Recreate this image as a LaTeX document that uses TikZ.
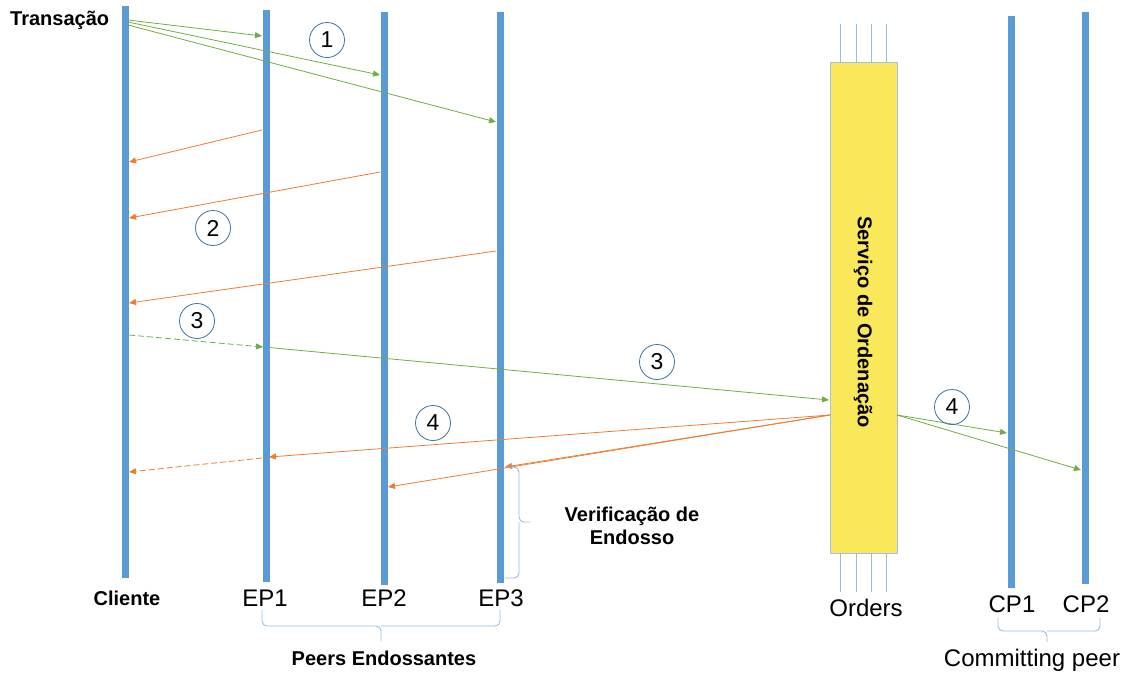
\documentclass[tikz,border=0pt]{standalone}
\usepackage{fontspec}
\setmainfont{Liberation Sans}
\usetikzlibrary{arrows.meta}
\definecolor{lifeblue}{RGB}{91,155,213}
\definecolor{msggreen}{RGB}{112,173,71}
\definecolor{msgorange}{RGB}{237,125,49}
\definecolor{ordyellow}{RGB}{249,232,90}
\definecolor{bracecol}{RGB}{150,190,228}
\definecolor{circlecol}{RGB}{65,113,156}
\begin{document}
\begin{tikzpicture}[x=1pt,y=-1pt,
  lifeline/.style={draw=lifeblue,line width=7pt},
  req/.style={draw=msggreen,line width=0.8pt,-{Triangle[length=7pt,width=6pt]}},
  resp/.style={draw=msgorange,line width=0.8pt,-{Triangle[length=7pt,width=6pt]}},
  stepnum/.style={circle,draw=circlecol,line width=0.8pt,minimum size=35pt,inner sep=0pt,font=\fontsize{23}{23}\selectfont},
  actor/.style={font=\fontsize{24}{24}\selectfont},
  bactor/.style={font=\bfseries\fontsize{20}{23}\selectfont},
  wire/.style={draw=bracecol,line width=0.7pt},
  bracket/.style={draw=bracecol,line width=0.9pt,rounded corners=5pt}
]
\useasboundingbox (0,0) rectangle (1134,673);

% lifelines
\draw[lifeline] (125,6) -- (125,578);
\draw[lifeline] (266,10) -- (266,582);
\draw[lifeline] (384,12) -- (384,585);
\draw[lifeline] (500,12) -- (500,583);
\draw[lifeline] (1011,16) -- (1011,588);
\draw[lifeline] (1085,12) -- (1085,584);

% ordering service
\foreach \x in {840,856,871,886} {
  \draw[wire] (\x,24) -- (\x,62);
  \draw[wire] (\x,553) -- (\x,592);
}
\node[draw=lifeblue!60,line width=0.5pt,fill=ordyellow,minimum width=67pt,minimum height=491pt,inner sep=0pt] (ord) at (863.5,307.5) {};
\node[rotate=-90,font=\bfseries\fontsize{20}{20}\selectfont] (ordtxt) at (863,322) {Serviço de Ordenação};

% endpoints on lifelines
\coordinate (c1) at (128,20);  \coordinate (c2) at (128,22);  \coordinate (c3) at (128,25);
\coordinate (e1a) at (262,36); \coordinate (e2a) at (380,75); \coordinate (e3a) at (496,122);
\coordinate (e1b) at (262,130); \coordinate (cb1) at (129,162);
\coordinate (e2b) at (380,172); \coordinate (cb2) at (129,218);
\coordinate (e3b) at (496,251); \coordinate (cb3) at (129,303);
\coordinate (c4) at (129,335); \coordinate (e1c) at (263,347); \coordinate (e1d) at (269,347.5);
\coordinate (oin) at (829,400);
\coordinate (oout) at (830,415);
\coordinate (e1e) at (269,457); \coordinate (e1f) at (262,458); \coordinate (cb4) at (129,472);
\coordinate (e3e) at (505,467); \coordinate (e2e) at (388,487);
\coordinate (oright) at (897,415);
\coordinate (p1) at (1007,433); \coordinate (p2) at (1081,470);

% step 1: proposal
\draw[req] (c1) -- (e1a);
\draw[req] (c2) -- (e2a);
\draw[req] (c3) -- (e3a);
% step 2: endorsements
\draw[resp] (e1b) -- (cb1);
\draw[resp] (e2b) -- (cb2);
\draw[resp] (e3b) -- (cb3);
% step 3: submit to ordering
\draw[req,dash pattern=on 6pt off 3pt] (c4) -- (e1c);
\draw[req] (e1d) -- (oin);
% step 4: delivery
\draw[resp] (oout) -- (e1e);
\draw[resp,dash pattern=on 6pt off 3pt] (e1f) -- (cb4);
\draw[resp] (oout) -- (e3e);
\draw[resp] (oout) -- (e2e);
\draw[req] (oright) -- (p1);
\draw[req] (oright) -- (p2);

% step numbers
\node[stepnum] (n1) at (327,40) {1};
\node[stepnum] (n2) at (213,228) {2};
\node[stepnum] (n3a) at (197,321) {3};
\node[stepnum] (n3b) at (657,362) {3};
\node[stepnum] (n4a) at (433,423) {4};
\node[stepnum] (n4b) at (952,407) {4};

% labels
\node[bactor,anchor=west,inner sep=0pt] (tx) at (10,20) {Transação};
\node[bactor] (cli) at (127,598) {Cliente};
\node[actor] (ep1) at (265,598) {EP1};
\node[actor] (ep2) at (384,598) {EP2};
\node[actor] (ep3) at (501,598) {EP3};
\node[actor] (orders) at (866,608) {Orders};
\node[actor] (cp1) at (1012,604) {CP1};
\node[actor] (cp2) at (1086,604) {CP2};

% brackets
\draw[bracket] (505,467) -- (519,467) -- (519,522) -- (530,522);
\draw[bracket] (505,578) -- (519,578) -- (519,522);
\node[bactor,align=center] (verif) at (632,526) {Verificação de\\Endosso};

\draw[bracket] (262,610) -- (262,626) -- (381,626) -- (381,641);
\draw[bracket] (500,610) -- (500,626) -- (381,626);
\node[bactor] (peers) at (384,658) {Peers Endossantes};

\draw[bracket] (998,618) -- (998,631) -- (1047,631) -- (1047,642);
\draw[bracket] (1100,618) -- (1100,631) -- (1047,631);
\node[actor] (commit) at (1032,660) {Committing peer};
\end{tikzpicture}
\end{document}
